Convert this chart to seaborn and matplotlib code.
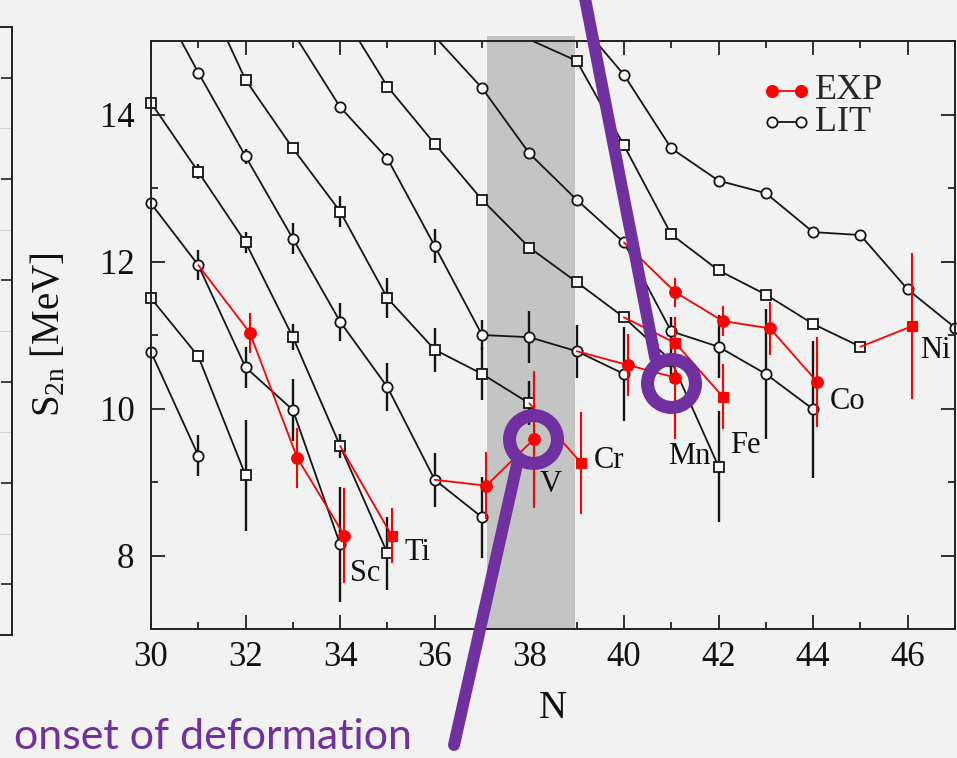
import numpy as np
import matplotlib
matplotlib.use("Agg")
import matplotlib.pyplot as plt
from matplotlib.lines import Line2D
from matplotlib.ticker import MultipleLocator
import seaborn as sns

# ---------------- two-neutron separation energies S2n [MeV] ----------------
# literature values (LIT) per isotopic chain: neutron number, S2n, uncertainty
K_N,  K_S,  K_err  = [30, 31], [10.77, 9.36], [0.0, 0.28]
Ca_N, Ca_S, Ca_err = [30, 31, 32], [11.50, 10.71, 9.09], [0.0, 0.08, 0.75]
Sc_N = [30, 31, 32, 33, 34]
Sc_S = [12.79, 11.95, 10.56, 9.98, 8.15]
Sc_err = [0.0, 0.20, 0.28, 0.42, 0.78]
Ti_N = [30, 31, 32, 33, 34, 35]
Ti_S = [14.16, 13.22, 12.26, 10.97, 9.49, 8.03]
Ti_err = [0.0, 0.10, 0.14, 0.18, 0.16, 0.50]
V_N = [30, 31, 32, 33, 34, 35, 36, 37]
V_S = [15.76, 14.57, 13.43, 12.31, 11.18, 10.29, 9.03, 8.52]
V_err = [0.0, 0.0, 0.10, 0.21, 0.26, 0.33, 0.37, 0.55]
Cr_N = [31, 32, 33, 34, 35, 36, 37, 38]
Cr_S = [15.86, 14.47, 13.54, 12.68, 11.50, 10.80, 10.47, 10.07]
Cr_err = [0.0, 0.0, 0.0, 0.21, 0.27, 0.30, 0.36, 0.30]
Mn_N = [33, 34, 35, 36, 37, 38, 39, 40]
Mn_S = [15.12, 14.10, 13.40, 12.21, 11.00, 10.97, 10.78, 10.47]
Mn_err = [0.0, 0.0, 0.07, 0.23, 0.20, 0.35, 0.36, 0.64]
Fe_N = [34, 35, 36, 37, 38, 39, 40, 41, 42]
Fe_S = [15.42, 14.38, 13.60, 12.84, 12.19, 11.72, 11.24, 10.65, 9.21]
Fe_err = [0.0, 0.0, 0.0, 0.0, 0.0, 0.0, 0.0, 0.30, 0.75]
Co_N = [36, 37, 38, 39, 40, 41, 42, 43, 44]
Co_S = [15.06, 14.36, 13.47, 12.84, 12.26, 11.05, 10.84, 10.47, 9.99]
Co_err = [0.0, 0.0, 0.0, 0.0, 0.0, 0.20, 0.43, 0.88, 0.93]
Ni_N = [38, 39, 40, 41, 42, 43, 44, 45]
Ni_S = [15.02, 14.73, 13.58, 12.37, 11.88, 11.55, 11.15, 10.84]
Ni_err = [0.0] * 8
Cu_N = [39, 40, 41, 42, 43, 44, 45, 46, 47]
Cu_S = [15.30, 14.54, 13.54, 13.10, 12.93, 12.40, 12.36, 11.62, 11.10]
Cu_err = [0.0] * 9

# new measurements (EXP); the first entry is the literature point they start from
Sc_expN, Sc_expS, Sc_expErr = [31, 32, 33, 34], [11.95, 11.03, 9.33, 8.27], [0.0, 0.27, 0.41, 0.65]
Ti_expN, Ti_expS, Ti_expErr = [34, 35], [9.49, 8.27], [0.0, 0.37]
V_expN,  V_expS,  V_expErr  = [36, 37, 38], [9.03, 8.95, 9.58], [0.0, 0.46, 0.93]
Cr_expN, Cr_expS, Cr_expErr = [38, 39], [10.07, 9.26], [0.0, 0.69]
Mn_expN, Mn_expS, Mn_expErr = [39, 40, 41], [10.78, 10.59, 10.42], [0.0, 0.42, 0.83]
Fe_expN, Fe_expS, Fe_expErr = [40, 41, 42], [11.24, 10.89, 10.16], [0.0, 0.35, 0.44]
Co_expN, Co_expS, Co_expErr = [40, 41, 42, 43, 44], [12.26, 11.58, 11.19, 11.09, 10.36], [0.0, 0.20, 0.21, 0.36, 0.61]
Ni_expN, Ni_expS, Ni_expErr = [45, 46], [10.84, 11.12], [0.0, 0.99]

# proton numbers (odd Z -> circles, even Z -> squares)
elements = ["K", "Ca", "Sc", "Ti", "V", "Cr", "Mn", "Fe", "Co", "Ni", "Cu"]
proton_number = [19, 20, 21, 22, 23, 24, 25, 26, 27, 28, 29]

# element tags: text, N of left edge, S2n of text centre
tag_text = ["Sc", "Ti", "V", "Cr", "Mn", "Fe", "Co", "Ni"]
tag_N = [34.20, 35.37, 38.22, 39.37, 40.93, 42.24, 44.36, 46.26]
tag_S = [7.76, 8.04, 8.97, 9.29, 9.35, 9.50, 10.10, 10.79]

# region of the onset of deformation along N
band_N = (37.1, 38.96)
# highlighted measurements (ring centres)
ring_N = [38.08, 41.0]
ring_S = [9.58, 10.35]

lit = {
    "K": (K_N, K_S, K_err), "Ca": (Ca_N, Ca_S, Ca_err), "Sc": (Sc_N, Sc_S, Sc_err),
    "Ti": (Ti_N, Ti_S, Ti_err), "V": (V_N, V_S, V_err), "Cr": (Cr_N, Cr_S, Cr_err),
    "Mn": (Mn_N, Mn_S, Mn_err), "Fe": (Fe_N, Fe_S, Fe_err), "Co": (Co_N, Co_S, Co_err),
    "Ni": (Ni_N, Ni_S, Ni_err), "Cu": (Cu_N, Cu_S, Cu_err),
}
exp = {
    "Sc": (Sc_expN, Sc_expS, Sc_expErr), "Ti": (Ti_expN, Ti_expS, Ti_expErr),
    "V": (V_expN, V_expS, V_expErr), "Cr": (Cr_expN, Cr_expS, Cr_expErr),
    "Mn": (Mn_expN, Mn_expS, Mn_expErr), "Fe": (Fe_expN, Fe_expS, Fe_expErr),
    "Co": (Co_expN, Co_expS, Co_expErr), "Ni": (Ni_expN, Ni_expS, Ni_expErr),
}

# ---------------- style ----------------
BG = "#f2f2f2"
LIT_C = "#151515"
EXP_C = "#ff0000"
PURPLE = "#7030a0"
BAND_C = "#c4c4c4"
EXP_SHIFT = 0.09  # small horizontal offset of the new data points

sns.set_theme(style="ticks")
plt.rcParams.update({
    "font.family": ["Liberation Serif", "DejaVu Serif"],
    "mathtext.fontset": "stix",
    "figure.facecolor": BG,
    "axes.facecolor": BG,
    "savefig.facecolor": BG,
    "axes.edgecolor": "#222222",
    "axes.linewidth": 1.4,
    "xtick.color": "#222222",
    "ytick.color": "#222222",
})

fig = plt.figure(figsize=(9.57, 7.58), dpi=100)
W, H = 957.0, 758.0
ax = fig.add_axes([151 / W, 1 - 629 / H, 804 / W, 588 / H])

# frame of the neighbouring panel at the left border
side = fig.add_axes([-0.5, 1 - 635 / H, 0.5 + 11.7 / W, 608 / H])
side.set_facecolor(BG)
side.set_xlim(0, 1)
side.set_ylim(0, 6)
side.set_xticks([])
side.set_yticks(np.arange(0.5, 6, 1.0))
side.yaxis.tick_right()
side.tick_params(axis="y", direction="in", length=8, width=1.2, labelright=False, labelleft=False)
for g in range(1, 6):
    side.axhline(g, color="#d4d4d4", lw=0.8, zorder=0)
for sp in side.spines.values():
    sp.set_linewidth(1.4)
    sp.set_color("#222222")

# shaded N range
ax.axvspan(band_N[0], band_N[1], ymin=0, ymax=1.0085, color=BAND_C, lw=0,
           zorder=1, clip_on=False)

ax.set_xlim(30, 47)
ax.set_ylim(7, 15)

# literature chains
for el, z in zip(elements, proton_number):
    N, S, E = (np.asarray(a, float) for a in lit[el])
    mk = "o" if z % 2 else "s"
    sns.lineplot(x=N, y=S, ax=ax, color=LIT_C, lw=1.3, estimator=None, sort=False, zorder=3)
    has = E > 0
    ax.errorbar(N[has], S[has], yerr=E[has], fmt="none", ecolor=LIT_C,
                elinewidth=1.7, capsize=0, zorder=3)
    vis = S <= 15
    ax.plot(N[vis], S[vis], ls="none", marker=mk, ms=7.4 if mk == "o" else 6.8,
            mfc="white", mec=LIT_C, mew=1.3, clip_on=False, zorder=4)

# new measurements
for el, z in zip(elements, proton_number):
    if el not in exp:
        continue
    N, S, E = (np.asarray(a, float) for a in exp[el])
    x = N.copy()
    x[1:] += EXP_SHIFT
    mk = "o" if z % 2 else "s"
    sns.lineplot(x=x, y=S, ax=ax, color=EXP_C, lw=1.3, estimator=None, sort=False, zorder=5)
    ax.errorbar(x[1:], S[1:], yerr=E[1:], fmt="none", ecolor=EXP_C,
                elinewidth=1.5, capsize=0, zorder=5)
    ax.plot(x[1:], S[1:], ls="none", marker=mk, ms=8.4 if mk == "o" else 7.0,
            mfc=EXP_C, mec=EXP_C, mew=0.8, zorder=6)

for t, n, s in zip(tag_text, tag_N, tag_S):
    ax.text(n, s, t, fontsize=22, ha="left", va="center", color="#111111", zorder=7)

# axes, ticks, labels
ax.set_xticks(np.arange(30, 47, 2))
ax.set_yticks([8, 10, 12, 14])
ax.xaxis.set_minor_locator(MultipleLocator(1))
ax.yaxis.set_minor_locator(MultipleLocator(1))
ax.tick_params(which="both", direction="in", top=True, right=True, width=1.3, colors="#222222")
ax.tick_params(which="major", length=10)
ax.tick_params(which="minor", length=5)
ax.tick_params(axis="x", which="major", labelsize=25, pad=9, labelcolor="#111111")
ax.tick_params(axis="y", which="major", labelsize=25, pad=12, labelcolor="#111111")
ax.set_xlabel("N", fontsize=28, color="#111111")
ax.set_ylabel(r"$\mathregular{S_{2n}}$ [MeV]", fontsize=28, color="#111111")
ax.xaxis.set_label_coords(0.5, -0.103)
ax.yaxis.set_label_coords(-0.103, 0.5)
for sp in ax.spines.values():
    sp.set_zorder(8)

# legend
ax.add_line(Line2D([0.7724, 0.8085], [0.915, 0.915], transform=ax.transAxes, color=EXP_C,
                   lw=1.3, marker="o", ms=8.4, mfc=EXP_C, mec=EXP_C, zorder=9))
ax.add_line(Line2D([0.7724, 0.8085], [0.862, 0.862], transform=ax.transAxes, color=LIT_C,
                   lw=1.3, marker="o", ms=7.4, mfc="white", mec=LIT_C, mew=1.3, zorder=9))
ax.text(0.826, 0.915, "EXP", transform=ax.transAxes, fontsize=26, va="center", ha="left")
ax.text(0.826, 0.862, "LIT", transform=ax.transAxes, fontsize=26, va="center", ha="left")

# highlighted points and pointer lines
for n, s in zip(ring_N, ring_S):
    ax.plot(n, s, marker="o", ms=34.5, mfc="none", mec=PURPLE, mew=9.4,
            clip_on=False, zorder=12)
ax.annotate("", xy=(40.66, 10.69), xycoords="data", xytext=(582, 775),
            textcoords="figure pixels", annotation_clip=False, zorder=12,
            arrowprops=dict(arrowstyle="-", color=PURPLE, lw=8.6, shrinkA=0, shrinkB=0))
ax.annotate("", xy=(37.74, 9.24), xycoords="data", xytext=(454, 13),
            textcoords="figure pixels", annotation_clip=False, zorder=12,
            arrowprops=dict(arrowstyle="-", color=PURPLE, lw=8.6, shrinkA=0, shrinkB=0))
fig.text(14 / W, 1 - 749 / H, "onset of deformation", color=PURPLE, fontsize=31,
         family=["Lato", "DejaVu Sans"], ha="left", va="baseline")

fig.savefig("out.png", dpi=100)
